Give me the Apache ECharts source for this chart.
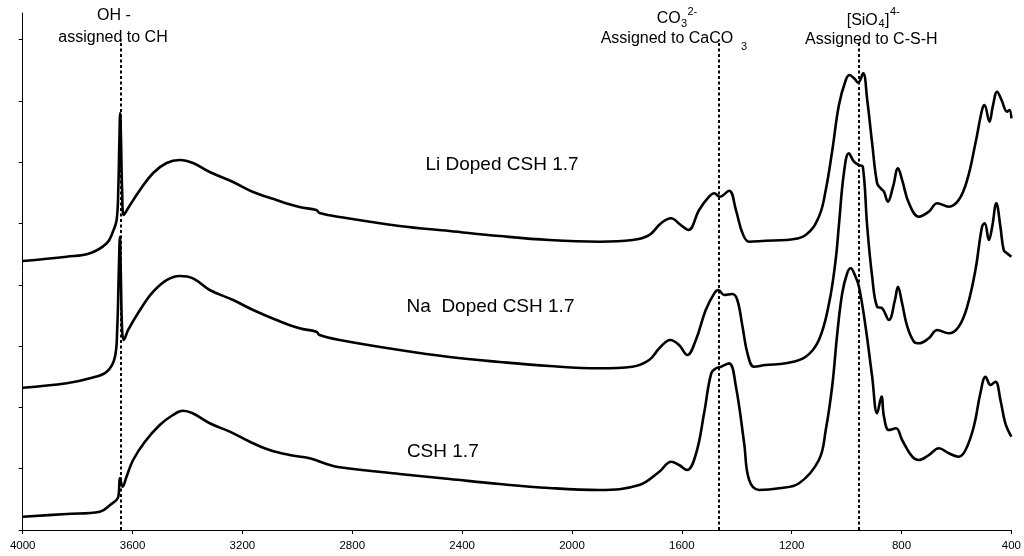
<!DOCTYPE html>
<html>
<head>
<meta charset="utf-8">
<script src="https://cdn.jsdelivr.net/npm/echarts@6/dist/echarts.min.js"></script>
<style>
html,body{margin:0;padding:0;background:#fff;}
#chart{width:1024px;height:556px;}
</style>
</head>
<body>
<div id="chart"></div>
<script>
// X axis ticks (wavenumber, cm-1)
var xTicks = [4000, 3600, 3200, 2800, 2400, 2000, 1600, 1200, 800, 400];
// Y axis tick marks (arbitrary absorbance units, no labels)
var yTicks = [0, 1, 2, 3, 4, 5, 6, 7, 8];

// Band assignment marker positions (cm-1)
var markerWn = [3643, 1465, 956];

// Li Doped CSH 1.7
var liWn = [4000,3840,3755,3694,3672,3658,3652,3648,3645,3642,3638,3632,3616,3573,3525,3476,3428,3380,3319,3234,3161,3076,2992,2931,2919,2846,2628,2446,2264,2083,1901,1780,1719,1676,1640,1604,1576,1537,1501,1482,1462,1428,1403,1379,1355,1295,1222,1149,1101,1076,1052,1028,1003,989,973,958,940,925,907,889,876,864,850,831,813,798,773,737,701,670,628,592,561,531,507,498,480,468,452,436,416,407,400];
var liAbs = [4.388,4.458,4.514,4.677,4.861,5.057,5.546,6.362,6.803,6.362,5.546,5.139,5.253,5.546,5.824,5.987,6.036,5.987,5.840,5.677,5.514,5.383,5.269,5.220,5.171,5.106,4.959,4.878,4.796,4.731,4.703,4.731,4.812,5.003,5.085,4.976,4.894,5.220,5.437,5.493,5.437,5.535,5.220,4.840,4.703,4.719,4.731,4.812,5.111,5.546,6.199,6.933,7.341,7.423,7.369,7.297,7.450,7.015,6.308,5.656,5.574,5.519,5.356,5.600,5.901,5.710,5.330,5.111,5.192,5.330,5.274,5.383,5.710,6.308,6.852,6.933,6.661,6.906,7.150,7.015,6.824,6.852,6.716];

// Na Doped CSH 1.7
var naWn = [4000,3840,3755,3694,3664,3656,3650,3646,3643,3638,3632,3616,3573,3525,3476,3428,3380,3319,3234,3161,3076,2992,2931,2919,2846,2628,2446,2264,2083,1901,1780,1719,1682,1642,1610,1580,1549,1513,1482,1467,1446,1416,1398,1379,1361,1337,1295,1222,1149,1101,1064,1040,1028,1010,992,973,955,941,925,907,889,870,846,824,813,798,779,755,737,701,670,628,592,561,531,507,497,482,470,455,440,428,416,400];
var naAbs = [2.321,2.393,2.475,2.582,2.827,3.263,4.241,4.785,4.241,3.263,3.100,3.263,3.589,3.887,4.078,4.144,4.106,3.915,3.752,3.589,3.426,3.290,3.235,3.181,3.100,2.936,2.822,2.741,2.675,2.638,2.664,2.773,2.964,3.100,3.018,2.855,3.100,3.589,3.861,3.915,3.834,3.850,3.752,3.316,2.883,2.664,2.692,2.719,2.827,3.100,3.698,4.405,4.976,5.819,6.145,6.008,5.954,5.927,4.948,4.132,3.643,3.617,3.426,3.752,3.969,3.698,3.316,3.072,3.046,3.127,3.263,3.209,3.316,3.643,4.241,4.948,5.003,4.731,4.948,5.330,4.948,4.568,4.514,4.458];

// CSH 1.7
var cshWn = [4000,3840,3719,3682,3652,3646,3636,3622,3598,3555,3501,3453,3417,3381,3319,3246,3173,3101,3028,2955,2882,2846,2628,2446,2264,2083,1901,1755,1682,1639,1610,1581,1548,1519,1493,1475,1457,1428,1403,1373,1355,1319,1246,1173,1101,1076,1052,1034,1016,998,985,970,955,931,907,889,873,864,846,820,798,761,737,701,664,628,592,567,537,513,494,476,458,440,422,400];
var cshAbs = [0.217,0.261,0.299,0.408,0.543,0.848,0.706,0.870,1.142,1.440,1.713,1.876,1.946,1.904,1.741,1.604,1.440,1.305,1.223,1.170,1.060,1.023,0.914,0.832,0.750,0.685,0.653,0.734,0.951,1.114,1.060,0.979,1.251,1.904,2.556,2.638,2.664,2.719,2.338,1.414,0.816,0.653,0.680,0.762,1.142,1.631,2.365,3.209,3.861,4.188,4.269,4.160,3.969,3.316,2.501,1.904,2.175,1.848,1.631,1.659,1.468,1.196,1.142,1.223,1.333,1.251,1.196,1.305,1.685,2.230,2.501,2.365,2.419,2.121,1.741,1.522];

var seriesNames = ['Li Doped CSH 1.7', 'Na  Doped CSH 1.7', 'CSH 1.7'];

function zip(a, b) {
  var n = Math.min(a.length, b.length), out = [];
  for (var i = 0; i < n; i++) out.push([a[i], b[i]]);
  return out;
}

var FONT = '"Liberation Sans", Arial, sans-serif';
var chart = echarts.init(document.getElementById('chart'), null, {renderer: 'canvas'});

function lineSeries(name, data, withMarkers) {
  var s = {
    name: name,
    type: 'line',
    data: data,
    showSymbol: false,
    symbol: 'none',
    smooth: 0.4,
    lineStyle: {color: '#000', width: 2.6, join: 'round'},
    silent: true
  };
  if (withMarkers) {
    s.markLine = {
      silent: true,
      symbol: ['none', 'none'],
      label: {show: false},
      lineStyle: {color: '#000', width: 2, type: [3, 2.5]},
      data: markerWn.map(function (w) {
        return [{coord: [w, 0]}, {coord: [w, 8]}];
      })
    };
  }
  return s;
}

function txt(x, y, text, size, align) {
  return {
    type: 'text', x: x, y: y, silent: true,
    style: {text: text, fill: '#000', font: size + 'px ' + FONT,
            align: align || 'center', verticalAlign: 'middle'}
  };
}

var option = {
  animation: false,
  backgroundColor: '#fff',
  grid: {left: 22.7, right: 11.7, top: 13, bottom: 26},
  xAxis: {
    type: 'value', inverse: true, min: 400, max: 4000, interval: 400,
    axisLine: {show: true, onZero: false, lineStyle: {color: '#000', width: 1}},
    axisTick: {show: true, length: 4, inside: false, lineStyle: {color: '#000'}},
    axisLabel: {color: '#000', fontSize: 11.5, fontFamily: FONT, margin: 10,
                customValues: xTicks,
                formatter: function (v) { return String(v); }},
    splitLine: {show: false}
  },
  yAxis: {
    type: 'value', min: 0, max: 8.434,
    axisLine: {show: true, onZero: false, lineStyle: {color: '#000', width: 1}},
    axisTick: {show: true, length: 4, inside: false, lineStyle: {color: '#000'},
               customValues: yTicks},
    axisLabel: {show: false},
    splitLine: {show: false}
  },
  series: [
    lineSeries(seriesNames[0], zip(liWn, liAbs), true),
    lineSeries(seriesNames[1], zip(naWn, naAbs), false),
    lineSeries(seriesNames[2], zip(cshWn, cshAbs), false)
  ],
  graphic: [
    txt(114, 15.5, 'OH -', 16),
    txt(113, 37.5, 'assigned to CH', 16),
    txt(656.7, 19, 'CO', 16, 'left'),
    txt(681, 23.5, '3', 11, 'left'),
    txt(687.5, 11.7, '2-', 11, 'left'),
    txt(600.7, 39, 'Assigned to CaCO', 16, 'left'),
    txt(741, 46.5, '3', 11, 'left'),
    txt(846.7, 21, '[SiO', 16, 'left'),
    txt(878.5, 23.5, '4', 11, 'left'),
    txt(885, 21, ']', 16, 'left'),
    txt(890, 11.7, '4-', 11, 'left'),
    txt(871.3, 40, 'Assigned to C-S-H', 16),
    txt(502, 164.5, seriesNames[0], 19),
    txt(490.5, 306.7, seriesNames[1], 19),
    txt(442.8, 451.7, seriesNames[2], 19)
  ]
};
chart.setOption(option);
</script>
</body>
</html>
